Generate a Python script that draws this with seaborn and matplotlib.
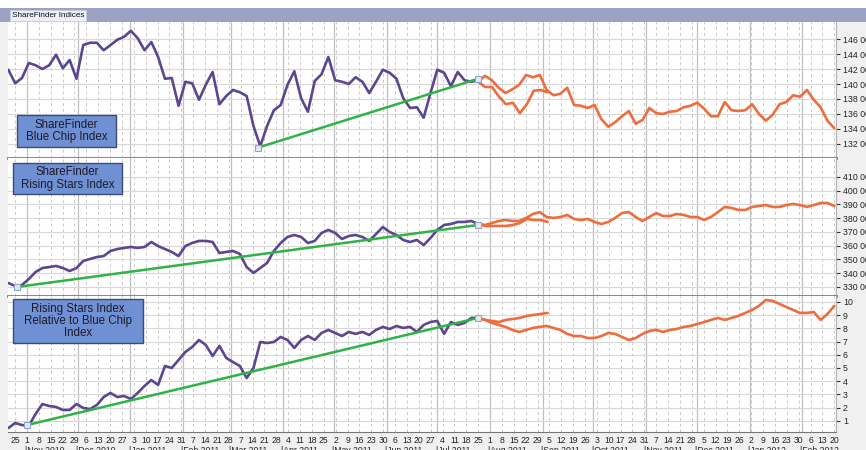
import numpy as np
import pandas as pd
import matplotlib
matplotlib.use("Agg")
import matplotlib.pyplot as plt
import matplotlib.dates as mdates
from matplotlib.ticker import FuncFormatter, MultipleLocator
from matplotlib.patches import Rectangle
import seaborn as sns

sns.set_style("white")
plt.rcParams['font.family'] = ['Liberation Sans', 'DejaVu Sans']

# ---- data ----
hist_dates = pd.date_range("2010-10-21", "2011-07-25", periods=70)
proj_dates = pd.date_range("2011-07-25", "2012-02-20", periods=53)
alt_dates = pd.date_range("2011-07-25", "2011-09-04", periods=11)

# Blue chip index (thousands)
blue_hist = [141.9, 140.1, 140.8, 142.8, 142.5, 142.0, 142.5, 143.9, 142.1, 143.2,
             140.7, 145.2, 145.5, 145.5, 144.5, 145.2, 145.9, 146.3, 147.1, 146.1,
             144.5, 145.6, 143.6, 140.7, 140.8, 137.1, 140.3, 140.1, 137.9, 139.9,
             141.6, 137.3, 138.4, 139.2, 138.9, 138.4, 134.4, 131.7, 134.4, 136.5,
             137.2, 139.9, 141.7, 138.1, 136.3, 140.4, 141.3, 143.6, 140.5, 140.3,
             140.0, 140.9, 140.3, 138.8, 140.3, 141.9, 141.5, 140.7, 138.1, 136.8,
             136.9, 135.5, 138.8, 141.9, 141.5, 139.7, 141.6, 140.5, 140.3, 140.5]
blue_proj = [140.3, 141.1, 140.5, 139.5, 138.8, 139.3, 139.9, 141.2, 140.9, 141.2,
             139.2, 138.5, 138.7, 139.5, 137.2, 137.1, 136.8, 137.2, 135.3, 134.3,
             134.9, 135.7, 136.4, 134.7, 135.2, 136.8, 136.1, 136.0, 136.3, 136.4,
             136.9, 137.1, 137.5, 136.7, 135.7, 135.7, 137.6, 136.5, 136.4, 136.5,
             137.3, 136.0, 135.1, 135.9, 137.3, 137.6, 138.5, 138.3, 139.2, 137.9,
             136.9, 135.1, 134.1]
blue_alt = [140.3, 139.6, 139.6, 138.3, 137.3, 137.5, 136.1, 137.3, 139.1, 139.2, 138.9]
blue_trend_dates = ["2011-03-17", "2011-07-25"]
blue_trend = [131.5, 140.7]

# Rising stars index (thousands)
rising_hist = [332.9, 330.7, 331.5, 335.8, 340.9, 343.8, 344.5, 345.3, 343.8, 341.6,
               343.8, 348.9, 350.4, 351.8, 352.5, 356.2, 357.6, 358.4, 359.1, 358.4,
               359.1, 362.7, 359.8, 357.6, 355.5, 352.5, 359.8, 362.0, 363.5, 363.5,
               362.7, 354.7, 355.5, 356.2, 354.0, 344.5, 340.2, 343.8, 347.5, 356.2,
               362.0, 366.4, 367.8, 366.4, 362.0, 363.5, 369.3, 371.5, 369.3, 364.9,
               367.1, 367.8, 366.4, 363.5, 368.5, 373.6, 370.0, 367.8, 364.2, 362.7,
               364.2, 360.5, 365.6, 371.5, 375.1, 375.8, 377.3, 377.3, 378.0, 375.8]
rising_proj = [375.8, 375.1, 376.5, 378.0, 378.7, 378.0, 378.0, 380.2, 383.1, 384.5,
               380.9, 380.2, 380.9, 382.4, 379.5, 378.7, 379.5, 377.3, 375.8, 377.3,
               380.2, 383.8, 384.5, 380.9, 378.0, 380.9, 383.8, 381.6, 381.6, 383.1,
               382.4, 380.9, 380.9, 378.7, 380.9, 384.5, 388.2, 387.5, 386.0, 386.0,
               388.2, 388.9, 389.6, 388.2, 388.2, 389.6, 390.4, 389.6, 388.2, 389.6,
               391.1, 391.1, 388.9]
rising_alt = [375.8, 374.4, 374.4, 374.4, 374.4, 375.1, 376.5, 379.5, 378.7, 378.7, 377.3]
rising_trend_dates = ["2010-10-26", "2011-07-25"]
rising_trend = [330.0, 375.1]

# Relative index
rel_hist = [0.45, 0.83, 0.68, 0.61, 1.52, 2.27, 2.12, 2.05, 1.82, 1.82,
            2.27, 1.97, 1.89, 2.20, 2.80, 3.11, 2.80, 2.88, 2.65, 3.11,
            3.64, 4.09, 3.71, 5.15, 5.00, 5.61, 6.21, 6.59, 7.12, 6.74,
            5.91, 6.67, 5.76, 5.45, 5.15, 4.24, 5.00, 6.97, 6.89, 6.97,
            7.35, 7.12, 6.52, 7.12, 7.42, 7.12, 7.65, 7.88, 7.65, 7.42,
            7.73, 7.58, 7.73, 7.50, 7.88, 8.11, 7.95, 8.18, 8.03, 8.11,
            7.73, 8.26, 8.48, 8.56, 7.58, 8.48, 8.26, 8.41, 8.79, 8.79]
rel_proj = [8.79, 8.64, 8.41, 8.26, 8.11, 7.88, 7.73, 7.88, 8.03, 8.11,
            8.18, 8.03, 7.88, 7.58, 7.42, 7.42, 7.27, 7.27, 7.42, 7.65,
            7.58, 7.35, 7.12, 7.27, 7.58, 7.80, 7.88, 7.73, 7.88, 7.95,
            8.11, 8.18, 8.33, 8.48, 8.64, 8.79, 8.64, 8.79, 8.94, 9.17,
            9.39, 9.70, 10.15, 10.08, 9.85, 9.62, 9.39, 9.17, 9.17, 9.24,
            8.64, 9.09, 9.70]
rel_alt = [8.79, 8.64, 8.56, 8.48, 8.64, 8.71, 8.79, 8.94, 9.02, 9.09, 9.17]
rel_trend_dates = ["2010-11-01", "2011-07-25"]
rel_trend = [0.68, 8.79]

labels = ["ShareFinder\nBlue Chip Index",
          "ShareFinder\nRising Stars Index",
          "Rising Stars Index\nRelative to Blue Chip\nIndex"]

PURPLE = "#5d4690"
ORANGE = "#f06c3c"
GREEN = "#2fb345"

W, H = 866, 450
fig = plt.figure(figsize=(W / 100, H / 100), dpi=100, facecolor="#f0f0f0")


def fx(x):
    return x / W


def fy(y):
    return 1 - y / H


def add_panel(top, bottom):
    return fig.add_axes([fx(8), fy(bottom), fx(836) - fx(8), (bottom - top) / H])


ax1 = add_panel(22, 158)
ax2 = add_panel(158, 296)
ax3 = add_panel(296, 432)

thousands = FuncFormatter(lambda v, p: f"{int(round(v * 1000)):,}".replace(",", " "))
month_starts = pd.date_range("2010-11-01", "2012-02-01", freq="MS")

panels = [
    (ax1, blue_hist, blue_proj, blue_alt, blue_trend_dates, blue_trend,
     (130.13, 148.27), 2, thousands),
    (ax2, rising_hist, rising_proj, rising_alt, rising_trend_dates, rising_trend,
     (323.45, 423.8), 10, thousands),
    (ax3, rel_hist, rel_proj, rel_alt, rel_trend_dates, rel_trend,
     (0.152, 10.45), 1, FuncFormatter(lambda v, p: f"{int(round(v))}")),
]

for ax, hist, proj, alt, tdates, tvals, ylim, step, fmt in panels:
    ax.set_facecolor("white")
    for m in month_starts:
        ax.axvline(m, color="#bfbfbf", lw=0.9, zorder=0)
    sns.lineplot(x=hist_dates, y=hist, ax=ax, color=PURPLE, lw=1.9, estimator=None)
    sns.lineplot(x=alt_dates, y=alt, ax=ax, color=ORANGE, lw=1.9, estimator=None)
    sns.lineplot(x=proj_dates, y=proj, ax=ax, color=ORANGE, lw=1.9, estimator=None)
    td = pd.to_datetime(tdates)
    sns.lineplot(x=td, y=tvals, ax=ax, color=GREEN, lw=1.8, estimator=None)
    ax.plot(td, tvals, ls="none", marker="s", ms=4, mfc="#e2e9f7", mec="#8fa3d0", mew=0.8)

    ax.set_xlim(pd.Timestamp("2010-10-20 19:00"), pd.Timestamp("2012-02-21"))
    ax.set_ylim(*ylim)
    ax.set_xlabel("")
    ax.set_ylabel("")
    ax.xaxis.set_major_locator(mdates.WeekdayLocator(byweekday=mdates.MO))
    ax.xaxis.set_minor_locator(mdates.DayLocator())
    ax.grid(axis="x", which="major", color="#c8c8c8", lw=0.7, ls=(0, (3, 3)))
    ax.grid(axis="y", which="major", color="#d8d8d8", lw=0.8, ls="-")
    ax.set_axisbelow(True)

    ax.yaxis.tick_right()
    ax.yaxis.set_major_locator(MultipleLocator(step))
    ax.yaxis.set_major_formatter(fmt)
    ax.tick_params(axis="y", which="both", right=True, left=False, length=3, width=0.8,
                   color="#333333", pad=2, labelsize=6.3, labelcolor="#222222")
    for s in ["top", "left"]:
        ax.spines[s].set_visible(False)
    ax.spines["right"].set_color("#b0b0b0")
    ax.spines["right"].set_linewidth(0.8)
    ax.spines["bottom"].set_color("#857a7a")
    ax.spines["bottom"].set_linewidth(2)

ax1.set_yticks(np.arange(132, 147, 2))
ax2.set_yticks(np.arange(330, 411, 10))
ax3.set_yticks(np.arange(1, 11, 1))

for ax in (ax1, ax2):
    ax.tick_params(axis="x", which="both", bottom=False, labelbottom=False)

ax3.spines["bottom"].set_color("#777777")
ax3.spines["bottom"].set_linewidth(0.8)
ax3.xaxis.set_major_formatter(FuncFormatter(lambda v, p: str(mdates.num2date(v).day)))
ax3.tick_params(axis="x", which="major", length=2.5, width=0.7, color="#555555",
                pad=0.5, labelsize=6.2, labelcolor="#222222")
ax3.tick_params(axis="x", which="minor", length=1.5, width=0.6, color="#777777")

for m in month_starts:
    ax3.annotate("|" + m.strftime("%b %Y"), xy=(m, 0), xycoords=("data", "axes fraction"),
                 xytext=(-1.2, -10.3), textcoords="offset points", ha="left", va="top",
                 fontsize=6.2, color="#222222", annotation_clip=False)

# header bar
fig.add_artist(Rectangle((0, fy(8)), 1, 8 / H, transform=fig.transFigure,
                         facecolor="white", edgecolor="none", zorder=0))
fig.add_artist(Rectangle((0, fy(22)), 1, 14 / H, transform=fig.transFigure,
                         facecolor="#9ca2c4", edgecolor="none", zorder=1))
fig.text(fx(12), fy(15.5), "ShareFinder Indices", fontsize=5.9, color="#111111",
         ha="left", va="center", zorder=6,
         bbox=dict(boxstyle="square,pad=0.2", facecolor="#eef0f8", edgecolor="#c9cde0", lw=0.6))

# label boxes
boxes = [(17, 115, 116, 147), (13, 163, 122, 194), (13, 299, 143, 343)]
for (x0, y0, x1, y1), txt in zip(boxes, labels):
    fig.add_artist(Rectangle((fx(x0), fy(y1)), (x1 - x0) / W, (y1 - y0) / H,
                             transform=fig.transFigure, facecolor="#7090d4",
                             edgecolor="#3c4a78", lw=1, zorder=5))
    fig.text(fx((x0 + x1) / 2), fy((y0 + y1) / 2), txt, fontsize=8.3, color="#1a1a2a",
             ha="center", va="center", linespacing=1.05, zorder=6)

fig.savefig("out.png", dpi=100, facecolor=fig.get_facecolor())
